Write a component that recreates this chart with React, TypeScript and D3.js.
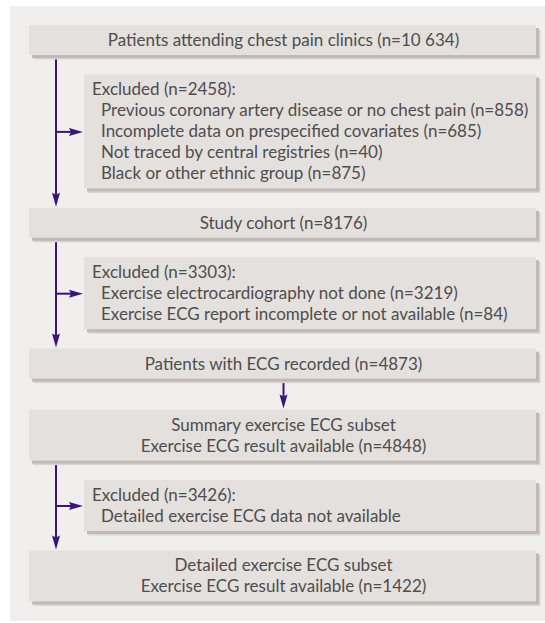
import React from "react";
import * as d3 from "d3";

// ---- Data ----
const mainBoxLabels: string[][] = [
  ["Patients attending chest pain clinics (n=10 634)"],
  ["Study cohort (n=8176)"],
  ["Patients with ECG recorded (n=4873)"],
  ["Summary exercise ECG subset", "Exercise ECG result available (n=4848)"],
  ["Detailed exercise ECG subset", "Exercise ECG result available (n=1422)"],
];
const excludedHeaders: string[] = [
  "Excluded (n=2458):",
  "Excluded (n=3303):",
  "Excluded (n=3426):",
];
const excludedItems: string[][] = [
  [
    "Previous coronary artery disease or no chest pain (n=858)",
    "Incomplete data on prespecified covariates (n=685)",
    "Not traced by central registries (n=40)",
    "Black or other ethnic group (n=875)",
  ],
  [
    "Exercise electrocardiography not done (n=3219)",
    "Exercise ECG report incomplete or not available (n=84)",
  ],
  ["Detailed exercise ECG data not available"],
];
// which exclusion follows each main box (index into excluded arrays), -1 = direct arrow
const exclusionAfterMain: number[] = [0, 1, -1, 2];

// ---- Style / layout ----
const W = 545;
const H = 623;
const BG = "#f0efed";
const BOX = "#e3e0dd";
const SHADOW = "#c1b9b6";
const HALO = "#dad3cf";
const TEXT = "#4f4d4e";
const ARROW = "#3d1577";
const FONT = "Lato, 'Open Sans', sans-serif";
const FS = 17;
const LINE_H = 21;
const CAP = 12;
const PAD = 9;
const GAP = 19.4;
const DIRECT_GAP = 31;
const MAIN_X0 = 29;
const EXCL_X0 = 84;
const X1 = 536;
const SPINE_X = 56;

type Box = {
  kind: "main" | "excl";
  lines: { text: string; indent: boolean }[];
  y: number;
  h: number;
};

function buildLayout(): Box[] {
  const boxes: Box[] = [];
  let y = 25;
  mainBoxLabels.forEach((lab, i) => {
    const h = LINE_H * lab.length + PAD;
    boxes.push({ kind: "main", lines: lab.map((t) => ({ text: t, indent: false })), y, h });
    y += h;
    if (i < exclusionAfterMain.length) {
      const e = exclusionAfterMain[i];
      if (e >= 0) {
        y += GAP;
        const lines = [
          { text: excludedHeaders[e], indent: false },
          ...excludedItems[e].map((t) => ({ text: t, indent: true })),
        ];
        const eh = LINE_H * lines.length + PAD;
        boxes.push({ kind: "excl", lines, y, h: eh });
        y += eh + GAP;
      } else {
        y += DIRECT_GAP;
      }
    }
  });
  return boxes;
}

function BoxShape({ b }: { b: Box }) {
  const x0 = b.kind === "main" ? MAIN_X0 : EXCL_X0;
  const w = X1 - x0;
  const blockH = CAP + LINE_H * (b.lines.length - 1);
  const firstBase = b.y + b.h / 2 - blockH / 2 + CAP;
  const cx = (MAIN_X0 + X1) / 2 + 1;
  return (
    <g>
      <rect x={x0 + 4.5} y={b.y + 4.5} width={w} height={b.h} fill={HALO} />
      <rect x={x0 + 3} y={b.y + 3} width={w} height={b.h} fill={SHADOW} />
      <rect x={x0} y={b.y} width={w} height={b.h} fill={BOX} />
      {b.lines.map((l, i) => (
        <text
          key={i}
          x={b.kind === "main" ? cx : x0 + (l.indent ? 17 : 8)}
          y={firstBase + i * LINE_H}
          textAnchor={b.kind === "main" ? "middle" : "start"}
          fontFamily={FONT}
          fontSize={FS}
          fill={TEXT}
        >
          {l.text}
        </text>
      ))}
    </g>
  );
}

function arrowHeadH(tipX: number, y: number) {
  const p = d3.path();
  p.moveTo(tipX, y);
  p.lineTo(tipX - 14, y - 4);
  p.lineTo(tipX - 12, y);
  p.lineTo(tipX - 14, y + 4);
  p.closePath();
  return p.toString();
}
function arrowHeadV(x: number, tipY: number) {
  const p = d3.path();
  p.moveTo(x, tipY);
  p.lineTo(x - 4, tipY - 14);
  p.lineTo(x, tipY - 12);
  p.lineTo(x + 4, tipY - 14);
  p.closePath();
  return p.toString();
}

export default function App() {
  const boxes = buildLayout();
  const arrows: React.ReactNode[] = [];
  for (let i = 0; i < boxes.length - 1; i++) {
    const b = boxes[i];
    if (b.kind !== "main") continue;
    const nxt = boxes[i + 1];
    if (nxt.kind === "excl") {
      const target = boxes[i + 2];
      const y0 = b.y + b.h;
      const tip = target.y - 1;
      const ay = nxt.y + nxt.h / 2 + 0.5;
      arrows.push(
        <g key={i}>
          <line x1={SPINE_X} x2={SPINE_X} y1={y0} y2={tip - 10} stroke={ARROW} strokeWidth={2} />
          <path d={arrowHeadV(SPINE_X, tip)} fill={ARROW} />
          <line x1={SPINE_X} x2={EXCL_X0 - 12} y1={ay} y2={ay} stroke={ARROW} strokeWidth={2} />
          <path d={arrowHeadH(EXCL_X0 - 1, ay)} fill={ARROW} />
        </g>
      );
    } else {
      const cx = (MAIN_X0 + X1) / 2 + 1;
      const y0 = b.y + b.h + 3;
      const tip = nxt.y - 1;
      arrows.push(
        <g key={i}>
          <line x1={cx} x2={cx} y1={y0} y2={tip - 10} stroke={ARROW} strokeWidth={2} />
          <path d={arrowHeadV(cx, tip)} fill={ARROW} />
        </g>
      );
    }
  }
  return (
    <svg
      width={W}
      height={H}
      style={{ position: "fixed", left: 0, top: 0, display: "block" }}
    >
      <rect x={0} y={0} width={W} height={H} fill="#ffffff" />
      <rect x={10} y={6} width={W - 10} height={615} fill={BG} />
      {arrows}
      {boxes.map((b, i) => (
        <BoxShape key={i} b={b} />
      ))}
    </svg>
  );
}
